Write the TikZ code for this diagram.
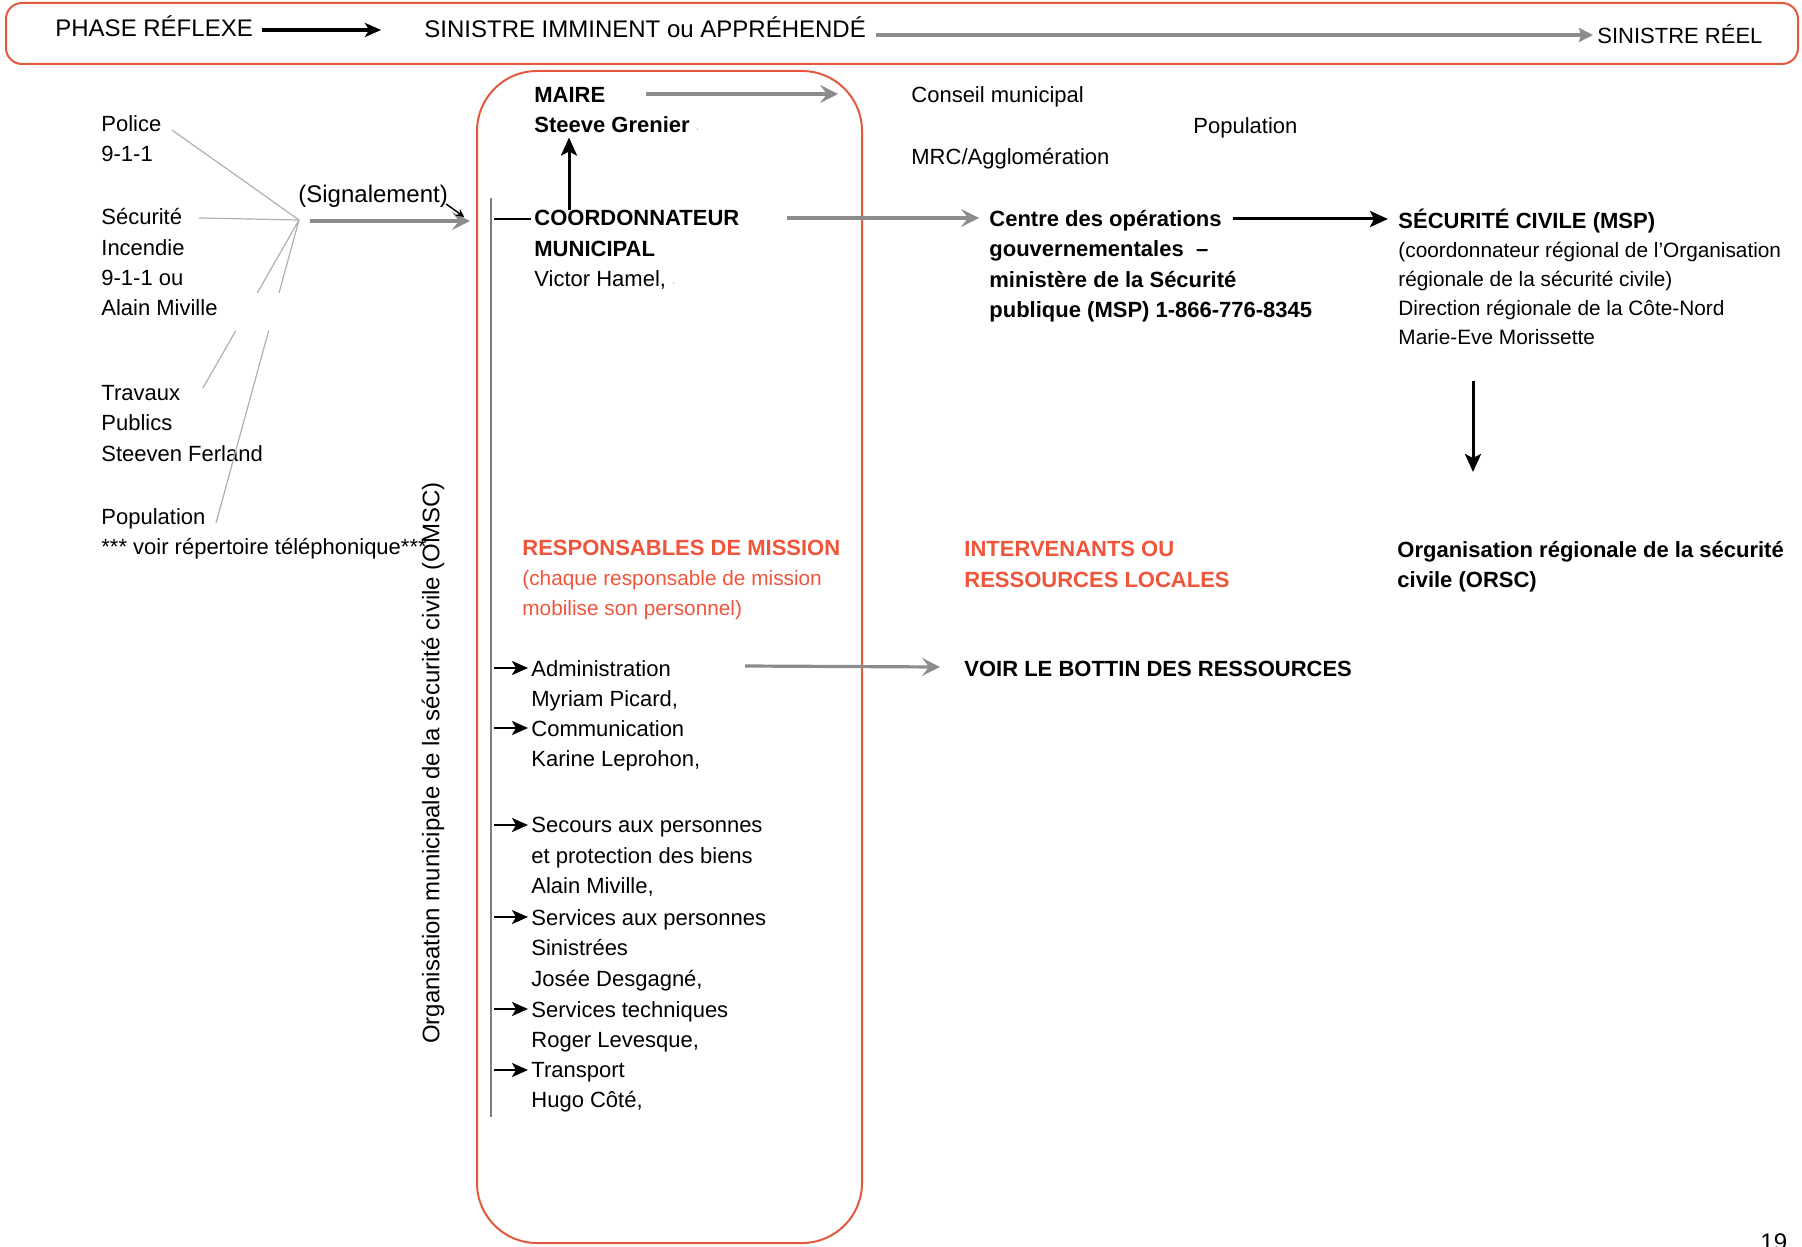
\documentclass[tikz,border=0pt]{standalone}
\usepackage{fontspec}
\setmainfont{Liberation Sans}
\usetikzlibrary{arrows.meta,calc}
\definecolor{boxred}{RGB}{228,88,62}
\definecolor{txtred}{RGB}{240,84,58}
\definecolor{arrgray}{RGB}{140,140,140}
\definecolor{lingray}{RGB}{175,175,175}
\definecolor{vgray}{RGB}{125,125,125}
\begin{document}
\begin{tikzpicture}[x=0.5pt,y=-0.5pt,
  t11/.style={inner sep=0pt, font=\fontsize{11}{15.2}\selectfont, align=left},
  t11b/.style={t11, font=\fontsize{11}{15.2}\selectfont\bfseries},
  t12/.style={inner sep=0pt, font=\fontsize{12}{15.2}\selectfont, align=left},
  garrow/.style={draw=arrgray, line width=1.6pt, -{Stealth[length=9pt,width=9pt,inset=3.5pt]}},
  gthin/.style={draw=arrgray, line width=1.6pt, -{Stealth[length=7pt,width=7pt,inset=1pt]}},
  barrow/.style={draw=black, line width=1.5pt, -{Stealth[length=9pt,width=8pt,inset=2pt]}},
  bthick/.style={draw=black, line width=2pt, -{Stealth[length=8pt,width=7pt,inset=2pt]}},
  larrow/.style={draw=black, line width=1.1pt, -{Stealth[length=8pt,width=7pt,inset=2pt]}},
  lnk/.style={draw=lingray, line width=0.6pt},
  rbox/.style={draw=boxred, line width=1pt}
]
\useasboundingbox (0,0) rectangle (1802,1246);

% ---- top band ----
\draw[rbox, rounded corners=8pt] (6,3) rectangle (1798,64);
\node[t12, anchor=base west] (phase) at (55,37) {PHASE RÉFLEXE};
\node[t12, anchor=base west] (imm) at (424,38) {SINISTRE IMMINENT ou APPRÉHENDÉ};
\node[t11, anchor=base west] (reel) at (1597,44) {SINISTRE RÉEL};
\coordinate (pa1) at (262,30);
\coordinate (pa2) at (381,30);
\draw[bthick] (pa1) -- (pa2);
\coordinate (ta1) at (876,35);
\draw[gthin] (ta1) -- ($(reel.base west)+(-4,-9)$);

% ---- left sources ----
\node[t11, anchor=north west] (police) at (101,115) {Police\\9-1-1};
\node[t11, anchor=north west] (secu) at (101,208) {Sécurité\\Incendie\\9-1-1 ou\\Alain Miville};
\node[t11, anchor=north west] (trav) at (101,385) {Travaux\\Publics\\Steeven Ferland};
\node[t11, anchor=north west] (popl) at (101,508) {Population\\*** voir répertoire téléphonique***};

\coordinate (hub) at (299,220);
\coordinate (lpol) at (172,130);
\coordinate (lsec) at (199,218);
\coordinate (ltrav) at (203,388);
\coordinate (lpop) at (216,523);
\draw[lnk] (lpol) -- (hub);
\draw[lnk] (lsec) -- (hub);
\draw[lnk] (hub) -- ($(hub)!0.435!(ltrav)$) ($(hub)!0.66!(ltrav)$) -- (ltrav);
\draw[lnk] (hub) -- ($(hub)!0.24!(lpop)$) ($(hub)!0.366!(lpop)$) -- (lpop);

\node[t12, anchor=base west] (sig) at (298,203) {(Signalement)};
\coordinate (sg1) at (310,221);
\coordinate (sg2) at (470,221);
\draw[garrow] (sg1) -- (sg2);
\draw[black, line width=0.7pt, -{Stealth[length=4pt,width=4pt]}] ($(sig.base east)+(-2,1)$) -- ($(sig.base east)+(16,14)$);

% ---- OMSC box ----
\draw[rbox, rounded corners=30pt] (477,71) rectangle (862,1243);
\coordinate (vtop) at (491,198);
\coordinate (vbot) at (491,1117);
\draw[draw=vgray, line width=1.2pt] (vtop) -- (vbot);
\node[t12, rotate=90] (omsc) at (433,763) {Organisation municipale de la sécurité civile (OMSC)};

\node[t11b, anchor=north west] (maire) at (534,87) {MAIRE\\Steeve Grenier {\normalfont\tiny\textcolor{gray}{·}}};
\node[t11, anchor=north west] (coord) at (534,210) {\textbf{COORDONNATEUR}\\\textbf{MUNICIPAL}\\Victor Hamel, {\tiny\textcolor{gray}{·}}};
\coordinate (upx) at (569,0);
\draw[draw=black, line width=1.5pt, -{Stealth[length=9pt,width=8pt,inset=2pt]}] (upx |- coord.north) -- ($(upx |- maire.south)+(0,4)$);
\draw[black, line width=1pt] ($(coord.north west)+(-40,9)$) -- ($(coord.north west)+(-3,9)$);

\coordinate (ma1) at (646,94);
\coordinate (ma2) at (838,94);
\draw[garrow] (ma1) -- (ma2);

\node[t11, anchor=base west] (conseil) at (911,103) {Conseil municipal};
\node[t11, anchor=base west] (popr) at (1193,134) {Population};
\node[t11, anchor=base west] (mrc) at (911,165) {MRC/Agglomération};

\node[t11b, anchor=north west] (centre) at (989,210) {Centre des opérations\\gouvernementales~~–\\ministère de la Sécurité\\publique (MSP) 1-866-776-8345};
\coordinate (co1) at (787,218);
\draw[garrow] (co1) -- ($(centre.north west)+(-10,8)$);

\node[inner sep=0pt, align=left, font=\fontsize{10.4}{14.5}\selectfont, anchor=north west] (secciv) at (1398,209) {{\fontsize{11}{14.5}\selectfont\bfseries SÉCURITÉ CIVILE (MSP)}\\(coordonnateur régional de l’Organisation\\régionale de la sécurité civile)\\Direction régionale de la Côte-Nord\\Marie-Eve Morissette};
\coordinate (cs1) at (1233,219);
\draw[barrow] (cs1) -- ($(secciv.north west)+(-10,10)$);

\coordinate (d1) at (1473,381);
\coordinate (d2) at (1473,472);
\draw[barrow] (d1) -- (d2);

\node[t11b, anchor=north west] (orsc) at (1397,541) {Organisation régionale de la sécurité\\civile (ORSC)};

\node[inner sep=0pt, align=left, font=\fontsize{10.4}{15}\selectfont, text=txtred, anchor=north west] (resp) at (522,540) {{\fontsize{11}{15}\selectfont\bfseries RESPONSABLES DE MISSION}\\(chaque responsable de mission\\mobilise son personnel)};
\node[t11b, text=txtred, anchor=north west] (interv) at (964,541) {INTERVENANTS OU\\RESSOURCES LOCALES};
\node[t11b, anchor=base west] (voir) at (964,676) {VOIR LE BOTTIN DES RESSOURCES};
\coordinate (av1) at (745,666);
\draw[garrow] (av1) -- ($(voir.base west)+(-24,-9)$);

% ---- missions list ----
\node[t11, anchor=north west] (l1) at (531,660) {Administration\\Myriam Picard,};
\node[t11, anchor=north west] (l2) at (531,720) {Communication\\Karine Leprohon,};
\node[t11, anchor=north west] (l3) at (531,817) {Secours aux personnes\\et protection des biens\\Alain Miville,};
\node[t11, anchor=north west] (l4) at (531,909) {Services aux personnes\\Sinistrées\\Josée Desgagné,};
\node[t11, anchor=north west] (l5) at (531,1001) {Services techniques\\Roger Levesque,};
\node[t11, anchor=north west] (l6) at (531,1062) {Transport\\Hugo Côté,};
\foreach \n in {l1,l2,l3,l4,l5,l6}
  \draw[larrow] ($(\n.north west)+(-37,8)$) -- ($(\n.north west)+(-3,8)$);

\node[t12, anchor=north west] (pg) at (1760,1233) {19};
\end{tikzpicture}
\end{document}
